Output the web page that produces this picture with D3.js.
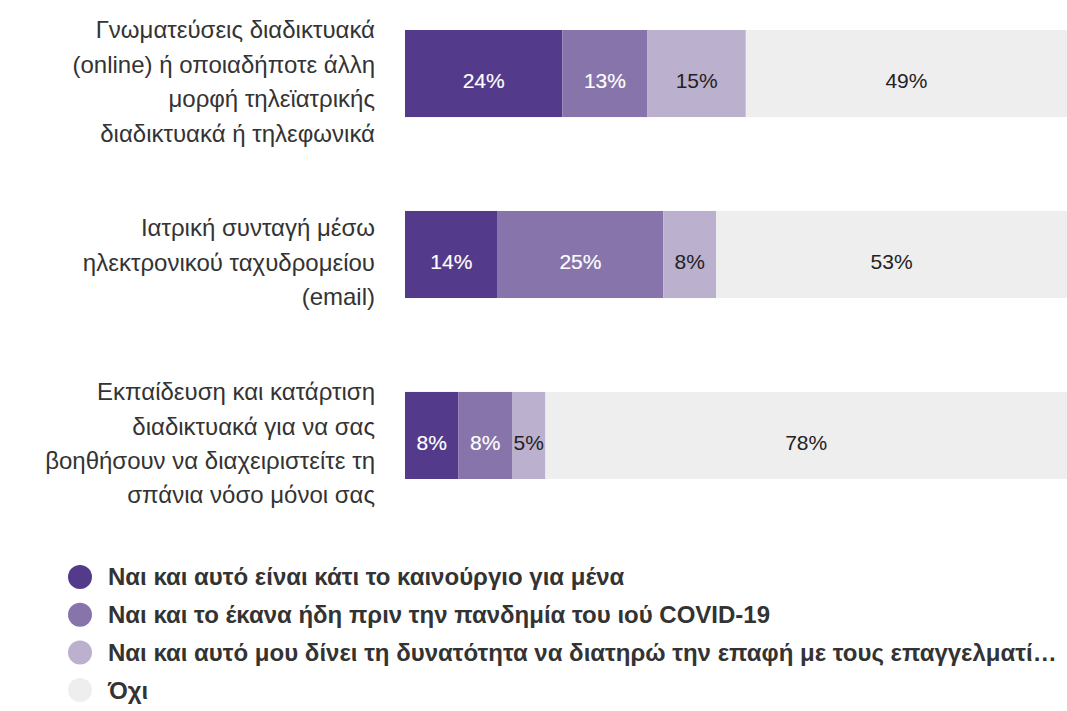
<!DOCTYPE html>
<html>
<head>
<meta charset="utf-8">
<script src="https://cdn.jsdelivr.net/npm/d3@7"></script>
<style>
  body { margin: 0; background: #fff; }
  text { font-family: "Liberation Sans", Arial, sans-serif; }
</style>
</head>
<body>
<svg id="chart" width="1067" height="711"></svg>
<script>
var categories = [
  ["Γνωματεύσεις διαδικτυακά", "(online) ή οποιαδήποτε άλλη", "μορφή τηλεϊατρικής", "διαδικτυακά ή τηλεφωνικά"],
  ["Ιατρική συνταγή μέσω", "ηλεκτρονικού ταχυδρομείου", "(email)"],
  ["Εκπαίδευση και κατάρτιση", "διαδικτυακά για να σας", "βοηθήσουν να διαχειριστείτε τη", "σπάνια νόσο μόνοι σας"]
];
var seriesNames = [
  "Ναι και αυτό είναι κάτι το καινούργιο για μένα",
  "Ναι και το έκανα ήδη πριν την πανδημία του ιού COVID-19",
  "Ναι και αυτό μου δίνει τη δυνατότητα να διατηρώ την επαφή με τους επαγγελματί…",
  "Όχι"
];
var newForMe = [24, 14, 8];
var doneBefore = [13, 25, 8];
var keepContact = [15, 8, 5];
var no = [49, 53, 78];
var colors = ["#543a8a", "#8674aa", "#bbb0cd", "#eeeeee"];
var labelColors = ["#ffffff", "#ffffff", "#222222", "#222222"];

var svg = d3.select("#chart"),
  barLeft = 405,
  barRight = 1067;

var series = [newForMe, doneBefore, keepContact, no];
var rows = categories.map(function (c, i) {
  var vals = series.map(function (s) { return s[i]; });
  var total = d3.sum(vals), x0 = 0;
  var x = d3.scaleLinear().domain([0, total]).range([barLeft, barRight]);
  return {
    label: c,
    segs: vals.map(function (v, k) {
      var seg = { v: v, k: k, x0: x(x0), x1: x(x0 + v) };
      x0 += v;
      return seg;
    })
  };
});

var y = d3.scaleBand()
  .domain(d3.range(categories.length))
  .range([30, 479])
  .paddingInner(0.519)
  .paddingOuter(0);

var row = svg.selectAll("g.row")
  .data(rows)
  .join("g")
  .attr("class", "row")
  .attr("transform", function (d, i) { return "translate(0," + y(i) + ")"; });

row.selectAll("rect")
  .data(function (d) { return d.segs; })
  .join("rect")
  .attr("x", function (d) { return d.x0; })
  .attr("width", function (d) { return d.x1 - d.x0; })
  .attr("y", 0)
  .attr("height", y.bandwidth())
  .attr("fill", function (d) { return colors[d.k]; });

row.selectAll("text.val")
  .data(function (d) { return d.segs; })
  .join("text")
  .attr("class", "val")
  .attr("x", function (d) { return (d.x0 + d.x1) / 2; })
  .attr("y", y.bandwidth() / 2 + 7)
  .attr("dy", "0.35em")
  .attr("text-anchor", "middle")
  .attr("font-size", 21)
  .attr("fill", function (d) { return labelColors[d.k]; })
  .attr("stroke", function (d) { return d.k < 2 ? labelColors[d.k] : "none"; })
  .attr("stroke-width", 0.15)
  .text(function (d) { return d.v + "%"; });

var lineH = 34.4;
row.each(function (d) {
  var n = d.label.length;
  var t = d3.select(this).append("text")
    .attr("text-anchor", "end")
    .attr("font-size", 24)
    .attr("fill", "#333");
  t.selectAll("tspan")
    .data(d.label)
    .join("tspan")
    .attr("x", 375)
    .attr("y", function (l, j) { return y.bandwidth() / 2 + 8 + (j - (n - 1) / 2) * lineH; })
    .attr("dy", "0.35em")
    .text(function (l) { return l; });
});

var legend = svg.selectAll("g.legend")
  .data(seriesNames)
  .join("g")
  .attr("class", "legend")
  .attr("transform", function (d, i) { return "translate(80," + (577 + i * 37.7) + ")"; });

legend.append("circle")
  .attr("r", 12)
  .attr("fill", function (d, i) { return colors[i]; });

legend.append("text")
  .attr("x", 28)
  .attr("dy", "0.35em")
  .attr("font-size", 24)
  .attr("font-weight", "bold")
  .attr("fill", "#333")
  .text(function (d) { return d; });
</script>
</body>
</html>
